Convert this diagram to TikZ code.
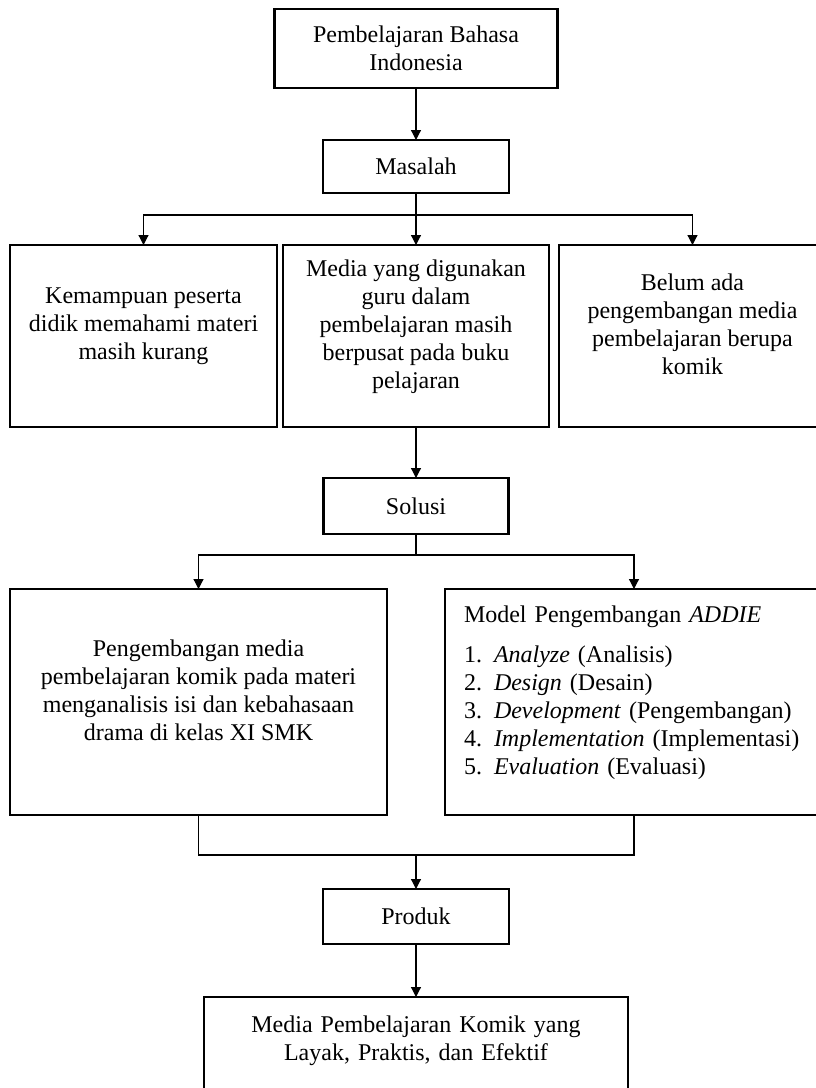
\documentclass[tikz,border=0pt]{standalone}
\usepackage{fontspec}
\setmainfont{Liberation Serif}
\usepackage{tikz}
\usetikzlibrary{arrows.meta,positioning}
\newcommand{\boxstrut}{\rule[-12pt]{0pt}{12pt}}

\begin{document}
\begin{tikzpicture}[
node distance=26pt,
box/.style={draw, line width=1.4pt, outer sep=0pt, align=center, font=\fontsize{12}{14}\selectfont, inner sep=3pt},
link/.style={line width=0.6pt},
arrow/.style={-{Triangle[length=5pt,width=5pt]}, line width=0.6pt}
]
\useasboundingbox (0,0) rectangle (407.5pt,-544pt);
\node[box, minimum width=141.5pt, minimum height=39.5pt] (bahasa) at (208pt,-24.25pt) {Pembelajaran Bahasa\\Indonesia};
\node[box, minimum width=93pt, minimum height=26.5pt, below=of bahasa] (masalah) {Masalah};
\node[box, minimum width=133pt, minimum height=91pt, below=of masalah] (media) {Media yang digunakan\\guru dalam\\pembelajaran masih\\berpusat pada buku\\pelajaran\boxstrut};
\node[box, minimum width=133.5pt, minimum height=91pt, left=3pt of media] (mampu) {Kemampuan peserta\\didik memahami materi\\masih kurang\boxstrut};
\node[box, minimum width=133.5pt, minimum height=91pt, right=5pt of media] (belum) {Belum ada\\pengembangan media\\pembelajaran berupa\\komik\boxstrut};
\node[box, minimum width=92.5pt, minimum height=28pt, below=25.5pt of media] (solusi) {Solusi};
\node[box, minimum width=188.5pt, minimum height=113pt, anchor=north east] (komik) at ([xshift=-14.5pt,yshift=-27.5pt]solusi.south) {Pengembangan media\\pembelajaran komik pada materi\\menganalisis isi dan kebahasaan\\drama di kelas XI SMK\boxstrut};
\node[box, text width=170pt, inner xsep=9.5pt, align=left, minimum height=113pt, anchor=north west] (addie) at ([xshift=14.5pt,yshift=-27.5pt]solusi.south) {Model Pengembangan \textit{ADDIE}\\[6pt]
\makebox[15pt][l]{1.}\textit{Analyze} (Analisis)\\
\makebox[15pt][l]{2.}\textit{Design} (Desain)\\
\makebox[15pt][l]{3.}\textit{Development} (Pengembangan)\\
\makebox[15pt][l]{4.}\textit{Implementation} (Implementasi)\\
\makebox[15pt][l]{5.}\textit{Evaluation} (Evaluasi)\boxstrut};
\coordinate (fork1) at ([yshift=-11pt]masalah.south);
\coordinate (fork2) at ([yshift=-10.5pt]solusi.south);
\coordinate (join) at ([yshift=-20pt]solusi.south |- komik.south);
\node[box, minimum width=93pt, minimum height=27.5pt, below=17pt of join] (produk) {Produk};
\node[box, text width=206pt, inner ysep=9.5pt, text depth=70pt, below=26.5pt of produk] (layak) {Media Pembelajaran Komik yang\\Layak, Praktis, dan Efektif};
\draw[arrow] (bahasa) -- (masalah);
\draw[arrow] (masalah) -- (media);
\draw[arrow] (fork1) -| (mampu.north);
\draw[arrow] (fork1) -| (belum.north);
\draw[arrow] (media) -- (solusi);
\draw[link] (solusi) -- (fork2);
\draw[arrow] (fork2) -| (komik.north);
\draw[arrow] (fork2) -| (addie.north);
\draw[link] (komik.south) |- (join);
\draw[link] (addie.south) |- (join);
\draw[arrow] (join) -- (produk);
\draw[arrow] (produk) -- (layak);
\end{tikzpicture}
\end{document}
